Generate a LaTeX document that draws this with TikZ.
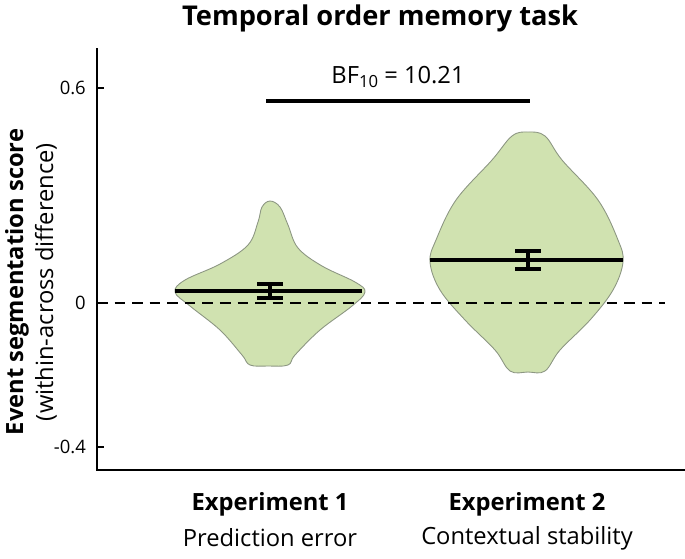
\documentclass[tikz,border=0pt]{standalone}
\usepackage{fontspec}
\setmainfont{Open Sans}
\begin{document}
\begin{tikzpicture}[x=0.02cm,y=-0.02cm,
  violin/.style={fill={rgb,255:red,208;green,226;blue,176},draw={rgb,255:red,140;green,150;blue,130},line width=0.5pt},
  meanline/.style={line width=2.2pt},
  ebar/.style={line width=1.8pt},
  lbl/.style={font=\fontsize{13.5}{15}\selectfont},
  blbl/.style={font=\fontsize{13.5}{15}\selectfont\bfseries},
  tick/.style={font=\fontsize{10.5}{12}\selectfont,anchor=east}]
\useasboundingbox (0,0) rectangle (685,558);
% violins
\draw[violin] plot[smooth cycle,tension=0.6] coordinates {
 (270,201) (280,207) (288,225) (298,248) (322,266) (355,282) (365,292) (352,306) (320,330) (295,355) (288,365) (268,366)
 (250,365) (242,355) (220,330) (190,306) (175,292) (185,280) (220,264) (248,245) (258,222) (262,207)};
\draw[violin] plot[smooth cycle,tension=0.6] coordinates {
 (528,132) (545,136) (562,160) (598,200) (618,240) (623,262) (613,290) (590,320) (560,350) (545,371) (528,372)
 (510,371) (495,350) (465,320) (440,290) (430,262) (436,240) (456,200) (492,160) (512,136)};
% zero line
\coordinate (z0) at (97,303); \coordinate (z1) at (665,303);
\draw[line width=1.6pt,dash pattern=on 6pt off 4pt] (z0) -- (z1);
% means and error bars
\coordinate (m1a) at (175,291); \coordinate (m1b) at (362,291);
\draw[meanline] (m1a) -- (m1b);
\draw[ebar] (270,284) -- (270,298) (257,284) -- (283,284) (257,298) -- (283,298);
\coordinate (m2a) at (430,260); \coordinate (m2b) at (623,260);
\draw[meanline] (m2a) -- (m2b);
\draw[ebar] (528,251) -- (528,269) (515,251) -- (541,251) (515,269) -- (541,269);
% axes
\coordinate (o) at (97,470); \coordinate (top) at (97,48); \coordinate (xr) at (685,470);
\draw[line width=1.5pt] (top) -- (o) -- (xr);
\draw[line width=1pt] (97,88) -- (104,88) (97,447) -- (104,447);
\node[tick] (t1) at (92,88) {0.6};
\node[tick] (t2) at (92,303) {0};
\node[tick] (t3) at (92,447) {-0.4};
% BF
\coordinate (bf1) at (266,101); \coordinate (bf2) at (530,101);
\draw[line width=2.2pt] (bf1) -- (bf2);
\node[lbl] (bf) at (398,77) {BF\raisebox{-0.35ex}{\fontsize{9.5}{10}\selectfont 10} = 10.21};
% title
\node[font=\fontsize{15.5}{17}\selectfont\bfseries] (title) at (380,18) {Temporal order memory task};
% y label
\node[blbl,rotate=90] (yl1) at (17,282) {Event segmentation score};
\node[lbl,rotate=90] (yl2) at (46,282) {(within-across difference)};
% x labels
\node[blbl] (e1) at (270,504) {Experiment 1};
\node[lbl] (p1) at (270,538) {Prediction error};
\node[blbl] (e2) at (527,504) {Experiment 2};
\node[lbl] (p2) at (527,538) {Contextual stability};
\end{tikzpicture}
\end{document}
